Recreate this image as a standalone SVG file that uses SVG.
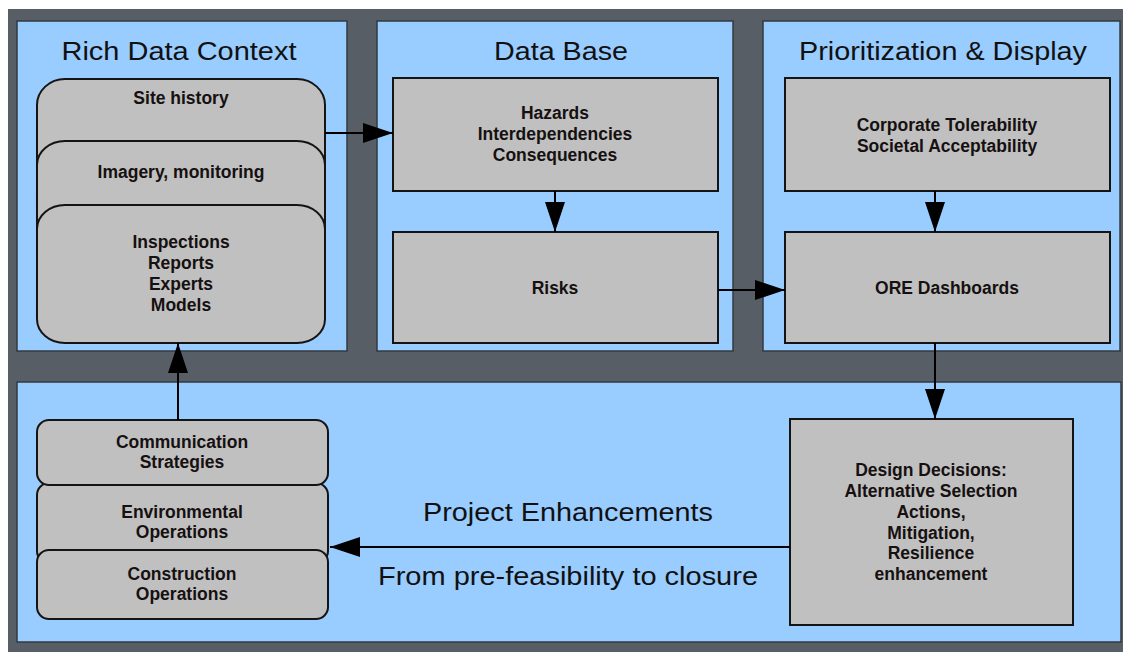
<svg xmlns="http://www.w3.org/2000/svg" width="1123" height="652" viewBox="0 0 1123 652">
<defs>
<style>
.panel{fill:#99CCFF;stroke:#333a40;stroke-width:1.5}
.box{fill:#C0C0C0;stroke:#141414;stroke-width:2}
.title{font-family:"Liberation Sans",Arial,sans-serif;font-size:25px;fill:#111;text-anchor:middle}
.lbl{font-family:"Liberation Sans",Arial,sans-serif;font-size:17.5px;font-weight:bold;fill:#161010;text-anchor:middle}
.big{font-family:"Liberation Sans",Arial,sans-serif;font-size:26px;fill:#111;text-anchor:middle}
.conn{stroke:#000;stroke-width:2;fill:none;marker-end:url(#ah)}
</style>
<marker id="ah" markerUnits="userSpaceOnUse" markerWidth="30" markerHeight="20" refX="30" refY="10" orient="auto">
<path d="M0,0 L30,10 L0,20 z" fill="#000"/>
</marker>
</defs>
<rect x="0" y="0" width="1123" height="652" fill="#ffffff"/>
<rect x="8" y="9" width="1115" height="643" fill="#575E66"/>

<g id="panel-rich">
<rect class="panel" x="17" y="21" width="330" height="330"/>
<text class="title" x="179" y="60" textLength="235" lengthAdjust="spacingAndGlyphs">Rich Data Context</text>
</g>
<g id="panel-database">
<rect class="panel" x="377" y="21" width="356" height="330"/>
<text class="title" x="561" y="60" textLength="134" lengthAdjust="spacingAndGlyphs">Data Base</text>
</g>
<g id="panel-prioritization">
<rect class="panel" x="763" y="21" width="357" height="330"/>
<text class="title" x="943" y="60" textLength="288" lengthAdjust="spacingAndGlyphs">Prioritization &amp; Display</text>
</g>
<g id="panel-bottom">
<rect class="panel" x="17" y="382" width="1104" height="260"/>
</g>

<g id="site-history">
<rect class="box" x="37" y="79" width="288" height="160" rx="28" ry="26"/>
<text class="lbl" x="181" y="104">Site history</text>
</g>
<g id="imagery">
<rect class="box" x="37" y="141" width="288" height="140" rx="28" ry="24"/>
<text class="lbl" x="181" y="178">Imagery, monitoring</text>
</g>
<g id="inspections">
<rect class="box" x="37" y="205" width="288" height="138" rx="28" ry="24"/>
<text class="lbl" x="181" y="248">Inspections</text>
<text class="lbl" x="181" y="269">Reports</text>
<text class="lbl" x="181" y="290">Experts</text>
<text class="lbl" x="181" y="311">Models</text>
</g>

<g id="hazards">
<rect class="box" x="393" y="78" width="325" height="113"/>
<text class="lbl" x="555" y="119">Hazards</text>
<text class="lbl" x="555" y="140">Interdependencies</text>
<text class="lbl" x="555" y="161">Consequences</text>
</g>
<g id="risks">
<rect class="box" x="393" y="232" width="325" height="111"/>
<text class="lbl" x="555" y="294">Risks</text>
</g>
<g id="corporate">
<rect class="box" x="785" y="78" width="325" height="113"/>
<text class="lbl" x="947" y="131">Corporate Tolerability</text>
<text class="lbl" x="947" y="152">Societal Acceptability</text>
</g>
<g id="ore">
<rect class="box" x="785" y="232" width="325" height="111"/>
<text class="lbl" x="947" y="294">ORE Dashboards</text>
</g>
<g id="design">
<rect class="box" x="790" y="419" width="283" height="206"/>
<text class="lbl" x="931" y="476">Design Decisions:</text>
<text class="lbl" x="931" y="497">Alternative Selection</text>
<text class="lbl" x="931" y="518">Actions,</text>
<text class="lbl" x="931" y="539">Mitigation,</text>
<text class="lbl" x="931" y="559">Resilience</text>
<text class="lbl" x="931" y="580">enhancement</text>
</g>

<g id="environmental">
<rect class="box" x="37" y="483" width="291" height="80" rx="12"/>
<text class="lbl" x="182" y="518">Environmental</text>
<text class="lbl" x="182" y="538">Operations</text>
</g>
<g id="communication">
<rect class="box" x="37" y="420" width="291" height="65" rx="12"/>
<text class="lbl" x="182" y="448">Communication</text>
<text class="lbl" x="182" y="468">Strategies</text>
</g>
<g id="construction">
<rect class="box" x="37" y="550" width="291" height="69" rx="12"/>
<text class="lbl" x="182" y="580">Construction</text>
<text class="lbl" x="182" y="600">Operations</text>
</g>

<g id="connectors">
<line class="conn" x1="325" y1="133" x2="393" y2="133"/>
<line class="conn" x1="555" y1="191" x2="555" y2="232"/>
<line class="conn" x1="718" y1="290" x2="785" y2="290"/>
<line class="conn" x1="935" y1="191" x2="935" y2="232"/>
<line class="conn" x1="935" y1="343" x2="935" y2="419"/>
<line class="conn" x1="790" y1="547" x2="330" y2="547"/>
<line class="conn" x1="178" y1="420" x2="178" y2="343"/>
<text class="big" x="568" y="521" textLength="290" lengthAdjust="spacingAndGlyphs">Project Enhancements</text>
<text class="big" x="568" y="585" textLength="380" lengthAdjust="spacingAndGlyphs">From pre-feasibility to closure</text>
</g>
</svg>
